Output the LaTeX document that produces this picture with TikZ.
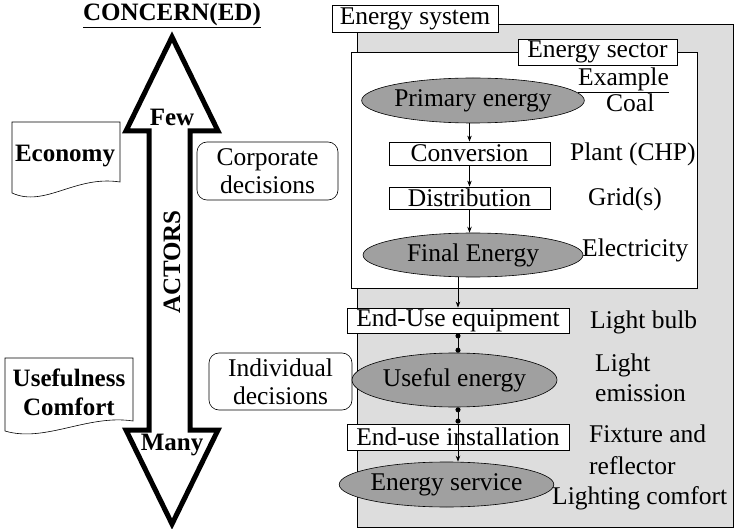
\documentclass[tikz,border=0pt]{standalone}
\usepackage{fontspec}
\setmainfont{Liberation Serif}
\usetikzlibrary{shapes.geometric,arrows.meta}
\definecolor{sysgray}{RGB}{221,221,221}
\definecolor{formgray}{RGB}{160,160,160}
\begin{document}
\begin{tikzpicture}[x=1pt,y=-1pt,
  every node/.style={font=\fontsize{25.5}{28}\selectfont, inner sep=0pt},
  lbl/.style={draw, fill=white, line width=0.8pt},
  stage/.style={draw, fill=white, line width=0.8pt},
  form/.style={draw, ellipse, fill=formgray, line width=0.6pt},
  choice/.style={draw, rounded corners=10pt, line width=0.6pt, align=center},
  paper/.style={draw, fill=white, line width=0.6pt},
  flow/.style={line width=0.8pt, -{Stealth[length=6pt,width=4.5pt]}},
  link/.style={line width=0.8pt, {Circle[length=5pt]}-{Circle[length=5pt]}},
  note/.style={anchor=west, align=left},
  heavy/.style={font=\fontsize{25}{28}\selectfont\bfseries}
]
\useasboundingbox (0,0) rectangle (736,529);

% --- actors axis -------------------------------------------------------
\node[heavy] (concern) at (172,15) {\underline{CONCERN(ED)}};
\draw[line width=5pt, line join=miter, fill=white]
  (172,37) -- (218,131) -- (190,131) -- (190,430) -- (218,430)
  -- (172,524) -- (126,430) -- (149,430) -- (149,131) -- (126,131) -- cycle;
\node[heavy] (few) at (172,117) {Few};
\node[heavy] (many) at (172,445) {Many};
\node[heavy, rotate=90] (actors) at (172,262) {ACTORS};

% --- concerns (document shapes) -----------------------------------------
\draw[paper] (12,122) -- (120,122) -- (120,182)
  .. controls (75,175) and (45,208) .. (12,193) -- cycle;
\node[heavy] (economy) at (65,156) {Economy};
\draw[paper] (5,358) -- (133,358) -- (133,421)
  .. controls (88,414) and (45,443) .. (5,431) -- cycle;
\node[heavy, align=center, font=\fontsize{25}{29}\selectfont\bfseries] (useful-comfort) at (69,392) {Usefulness\\Comfort};

% --- decisions ------------------------------------------------------------
\node[choice, minimum width=141pt, minimum height=58pt] (corporate) at (267.5,171) {Corporate\\decisions};
\node[choice, minimum width=143pt, minimum height=57pt] (individual) at (280.5,381.5) {Individual\\decisions};

% --- energy system and energy sector --------------------------------------
\node[draw, fill=sysgray, line width=0.8pt, anchor=north west,
      minimum width=376pt, minimum height=503pt] (system) at (357,24) {};
\node[lbl, minimum width=166pt, minimum height=27pt] (syslbl) at (415,18.5) {Energy system};
\node[draw, fill=white, line width=0.8pt, anchor=north west,
      minimum width=346pt, minimum height=236pt] (sector) at (351,52) {};
\node[lbl, minimum width=159pt, minimum height=26pt] (seclbl) at (597.5,52) {Energy sector};

% --- chain of energy forms and stages -------------------------------------
\node[form, minimum width=207pt, minimum height=45pt] (prim) at (473,100.5) {Primary energy};
\node[stage, minimum width=161pt, minimum height=23pt] (conv) at (469.5,153.5) {Conversion};
\node[stage, minimum width=161pt, minimum height=22pt] (dist) at (469.5,198) {Distribution};
\node[form, minimum width=220pt, minimum height=44pt] (final) at (473,255) {Final Energy};
\node[stage, minimum width=222pt, minimum height=25pt] (equip) at (458,320.5) {End-Use equipment};
\node[form, minimum width=205pt, minimum height=54pt] (useful) at (454.5,380) {Useful energy};
\node[stage, minimum width=222pt, minimum height=26pt] (inst) at (458,437) {End-use installation};
\node[form, minimum width=207pt, minimum height=45pt] (service) at (446.5,484.5) {Energy service};

\draw[flow] (conv.north |- prim.south) -- (conv.north);
\draw[flow] (conv.south) -- (dist.north);
\draw[flow] (dist.south) -- (dist.south |- final.north);
\draw[flow] (equip.north |- final.south) -- (equip.north);
\draw[link] (equip.south) -- (equip.south |- useful.north);
\draw[link] (inst.north |- useful.south) -- (inst.north);
\draw[flow] (inst.north) -- (inst.north |- service.north);

% --- examples ---------------------------------------------------------------
\node[note] (example) at (578,80) {\underline{Example}};
\node[note] (coal) at (606,103) {Coal};
\node[note] (plant) at (570,154) {Plant (CHP)};
\node[note] (grid) at (588,199) {Grid(s)};
\node[note] (elec) at (582,250) {Electricity};
\node[note] (bulb) at (590,322) {Light bulb};
\node[note, font=\fontsize{25.5}{30}\selectfont] (emission) at (595,378) {Light\\emission};
\node[note, font=\fontsize{25.5}{32}\selectfont] (fixture) at (589,450) {Fixture and\\reflector};
\node[note] (comfort) at (552,498) {Lighting comfort};
\end{tikzpicture}
\end{document}
